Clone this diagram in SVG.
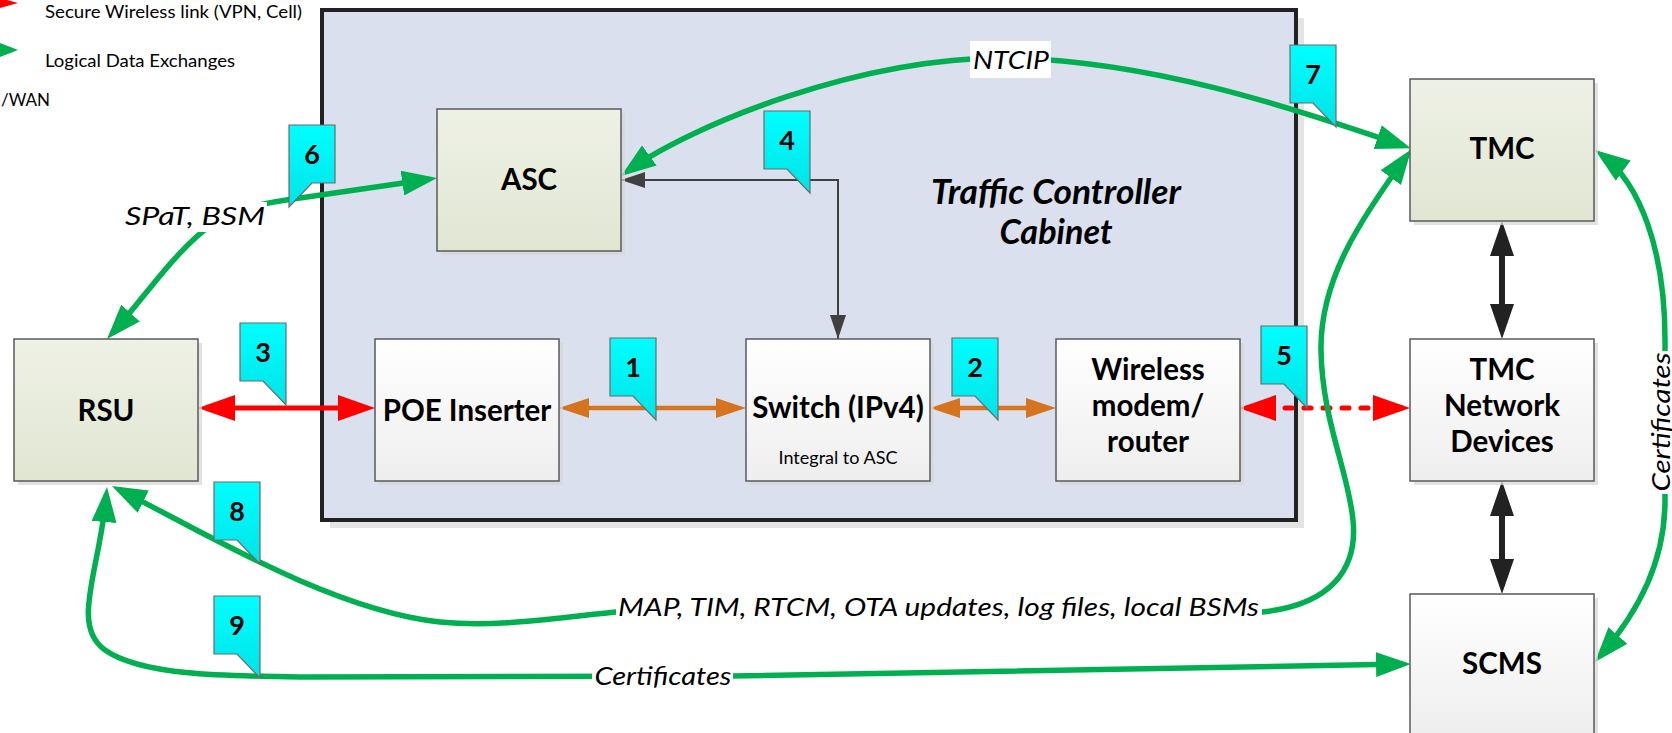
<svg xmlns="http://www.w3.org/2000/svg" xmlns:xlink="http://www.w3.org/1999/xlink" width="1672" height="733" viewBox="0 0 1672 733">
<style>
text{font-family:Lato,"Liberation Sans",sans-serif;fill:#000}
.nt{font-weight:bold;font-size:29.5px;text-anchor:middle}
.sm{font-size:18px;text-anchor:middle}
.lg{font-size:17px}
.il{font-style:italic;font-size:25px;text-anchor:middle}
.num{font-weight:bold;font-size:27px;text-anchor:middle}
.ttl{font-weight:bold;font-style:italic;font-size:34px;text-anchor:middle}
.bg{fill:#fff}
.boxA{fill:url(#gA);stroke:#5a5a5a;stroke-width:1.5}
.boxB{fill:url(#gB);stroke:#5a5a5a;stroke-width:1.5}
.sh{fill:#d6d6d6;opacity:.7}
.co{fill:url(#gC);stroke:#6a6a6a;stroke-width:1.2}
.g{fill:none;stroke:#00b050;stroke-width:5.5}
.r{fill:none;stroke:#ff0000;stroke-width:5}
.o{fill:none;stroke:#d6731f;stroke-width:4.5}
.k{fill:none;stroke:#222;stroke-width:6}
.gr{fill:none;stroke:#404040;stroke-width:2}
</style>
<defs>
<linearGradient id="gA" x1="0" y1="0" x2="0" y2="1"><stop offset="0" stop-color="#eef1e5"/><stop offset="1" stop-color="#e1e6d3"/></linearGradient>
<linearGradient id="gB" x1="0" y1="0" x2="0" y2="1"><stop offset="0" stop-color="#ffffff"/><stop offset="1" stop-color="#eeeeee"/></linearGradient>
<linearGradient id="gC" x1="0" y1="0" x2="0" y2="1"><stop offset="0" stop-color="#00ffff"/><stop offset="1" stop-color="#00e3e8"/></linearGradient>
<marker id="mG" viewBox="0 0 35 25" refX="27" refY="12.5" markerWidth="35" markerHeight="25" markerUnits="userSpaceOnUse" orient="auto-start-reverse"><path d="M0,0 L35,12.5 L0,25 Z" fill="#00b050"/></marker>
<marker id="mR" viewBox="0 0 37 26" refX="29" refY="13" markerWidth="37" markerHeight="26" markerUnits="userSpaceOnUse" orient="auto-start-reverse"><path d="M0,0 L37,13 L0,26 Z" fill="#ff0000"/></marker>
<marker id="mO" viewBox="0 0 30 20" refX="22" refY="10" markerWidth="30" markerHeight="20" markerUnits="userSpaceOnUse" orient="auto-start-reverse"><path d="M0,0 L30,10 L0,20 Z" fill="#d6731f"/></marker>
<marker id="mK" viewBox="0 0 35 24" refX="27" refY="12" markerWidth="35" markerHeight="24" markerUnits="userSpaceOnUse" orient="auto-start-reverse"><path d="M0,0 L35,12 L0,24 Z" fill="#222"/></marker>
<marker id="mS" viewBox="0 0 24 16" refX="24" refY="8" markerWidth="24" markerHeight="16" markerUnits="userSpaceOnUse" orient="auto-start-reverse"><path d="M0,0 L24,8 L0,16 Z" fill="#404040"/></marker>
<path id="cr" d="M0,0 H46 V82 L23,58 H0 Z"/>
<path id="cl" d="M0,0 H46 V58 H23 L0,82 Z"/>
</defs>

<rect width="1672" height="733" fill="#fff"/>

<g id="legend">
<polygon points="0,-2 18,3 0,8" fill="#ff0000"/>
<polygon points="0,43 18,50 0,57" fill="#00b050"/>
<text class="lg" x="45" y="18" textLength="257" lengthAdjust="spacingAndGlyphs">Secure Wireless link (VPN, Cell)</text>
<text class="lg" x="45" y="67" textLength="190" lengthAdjust="spacingAndGlyphs">Logical Data Exchanges</text>
<text class="lg" x="1" y="106">/WAN</text>
</g>

<g id="cabinet">
<rect x="330" y="18" width="974" height="510" fill="#e4e4e4"/>
<rect x="322" y="10" width="974" height="510" fill="#dae0ed" stroke="#222" stroke-width="4"/>
<text class="ttl" x="1056" y="204" textLength="250" lengthAdjust="spacingAndGlyphs">Traffic Controller</text>
<text class="ttl" x="1056" y="244" textLength="113" lengthAdjust="spacingAndGlyphs">Cabinet</text>
</g>

<g id="connectors">
<path class="gr" d="M838 339 V180 H621" marker-start="url(#mS)" marker-end="url(#mS)"/>
<path class="r" d="M206 408 H367" marker-start="url(#mR)" marker-end="url(#mR)"/>
<path class="o" d="M567 408 H738" marker-start="url(#mO)" marker-end="url(#mO)"/>
<path class="o" d="M938 408 H1048" marker-start="url(#mO)" marker-end="url(#mO)"/>
<path class="r" d="M1247 408 H1402" stroke-dasharray="7 12" stroke-linecap="round" marker-start="url(#mR)" marker-end="url(#mR)"/>
<path class="k" d="M1502 229 V331" marker-start="url(#mK)" marker-end="url(#mK)"/>
<path class="k" d="M1502 489 V586" marker-start="url(#mK)" marker-end="url(#mK)"/>
<path class="g" d="M627.5 171.3 C690 126 860 56 1010 58 C1150 61 1280 104 1403.3 145.7" marker-start="url(#mG)" marker-end="url(#mG)"/>
<path class="g" d="M112.4 333.1 C145 297 175 250 215 222 C240 208 262 203 300 198 L429.1 179.2" marker-start="url(#mG)" marker-end="url(#mG)"/>
<path class="g" d="M119.1 489.6 C200 530 330 610 440 622 C500 628 560 617 617 612 L1262 612 C1330 605 1358 570 1353 520 C1348 470 1322 420 1321 350 C1320 280 1360 220 1406.7 155.75" marker-start="url(#mG)" marker-end="url(#mG)"/>
<path class="g" d="M106.3 495 C100 570 70 625 105 650 C140 675 220 676 300 677 L731 676 L1403 664.1" marker-start="url(#mG)" marker-end="url(#mG)"/>
<path class="g" d="M1601.5 154.7 C1640 183 1665 250 1665 340 L1665 500 C1665 560 1640 610 1600.2 655.9" marker-start="url(#mG)" marker-end="url(#mG)"/>
<rect class="bg" x="970" y="41" width="81" height="37"/>
<text class="il" x="1011" y="69" font-size="25" textLength="76" lengthAdjust="spacingAndGlyphs">NTCIP</text>
<rect class="bg" x="124" y="202" width="143" height="30"/>
<text class="il" x="195" y="225" textLength="140" lengthAdjust="spacingAndGlyphs">SPaT, BSM</text>
<rect class="bg" x="616" y="594" width="646" height="30"/>
<text class="il" x="938.5" y="616" textLength="641" lengthAdjust="spacingAndGlyphs">MAP, TIM, RTCM, OTA updates, log files, local BSMs</text>
<rect class="bg" x="592" y="663" width="141" height="28"/>
<text class="il" x="663" y="685" textLength="137" lengthAdjust="spacingAndGlyphs">Certificates</text>
<rect class="bg" x="1648" y="351" width="24" height="143"/>
<text class="il" transform="translate(1670 422) rotate(-90)" textLength="139" lengthAdjust="spacingAndGlyphs">Certificates</text>
</g>

<g id="asc"><rect class="sh" x="441" y="113" width="184" height="142"/><rect class="boxA" x="437" y="109" width="184" height="142"/><text class="nt" x="529" y="190">ASC</text></g>
<g id="rsu"><rect class="sh" x="18" y="343" width="184" height="142"/><rect class="boxA" x="14" y="339" width="184" height="142"/><text class="nt" x="106" y="421">RSU</text></g>
<g id="poe"><rect class="sh" x="379" y="343" width="184" height="142"/><rect class="boxB" x="375" y="339" width="184" height="142"/><text class="nt" x="467" y="421">POE Inserter</text></g>
<g id="switch"><rect class="sh" x="750" y="343" width="184" height="142"/><rect class="boxB" x="746" y="339" width="184" height="142"/><text class="nt" x="838" y="418">Switch (IPv4)</text><text class="sm" x="838" y="464">Integral to ASC</text></g>
<g id="wireless"><rect class="sh" x="1060" y="343" width="184" height="142"/><rect class="boxB" x="1056" y="339" width="184" height="142"/><text class="nt" x="1148" y="380">Wireless</text><text class="nt" x="1148" y="416">modem/</text><text class="nt" x="1148" y="452">router</text></g>
<g id="tmc"><rect class="sh" x="1414" y="83" width="184" height="142"/><rect class="boxA" x="1410" y="79" width="184" height="142"/><text class="nt" x="1502" y="159">TMC</text></g>
<g id="tmcnd"><rect class="sh" x="1414" y="343" width="184" height="142"/><rect class="boxB" x="1410" y="339" width="184" height="142"/><text class="nt" x="1502" y="380">TMC</text><text class="nt" x="1502" y="416">Network</text><text class="nt" x="1502" y="452">Devices</text></g>
<g id="scms"><rect class="sh" x="1414" y="598" width="184" height="142"/><rect class="boxB" x="1410" y="594" width="184" height="142"/><text class="nt" x="1502" y="674">SCMS</text></g>

<g id="callout1"><use href="#cr" class="co" x="610" y="338"/><text class="num" x="633" y="377">1</text></g>
<g id="callout2"><use href="#cr" class="co" x="952" y="338"/><text class="num" x="975" y="377">2</text></g>
<g id="callout3"><use href="#cr" class="co" x="240" y="323"/><text class="num" x="263" y="362">3</text></g>
<g id="callout4"><use href="#cr" class="co" x="764" y="111"/><text class="num" x="787" y="150">4</text></g>
<g id="callout5"><use href="#cr" class="co" x="1261" y="326"/><text class="num" x="1284" y="365">5</text></g>
<g id="callout6"><use href="#cl" class="co" x="289" y="125"/><text class="num" x="312" y="164">6</text></g>
<g id="callout7"><use href="#cr" class="co" x="1290" y="45"/><text class="num" x="1313" y="84">7</text></g>
<g id="callout8"><use href="#cr" class="co" x="214" y="482"/><text class="num" x="237" y="521">8</text></g>
<g id="callout9"><use href="#cr" class="co" x="214" y="596"/><text class="num" x="237" y="635">9</text></g>
</svg>
